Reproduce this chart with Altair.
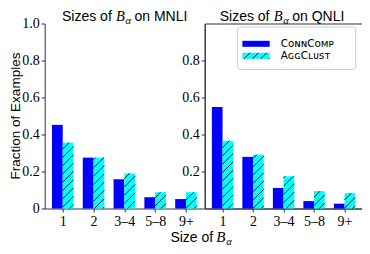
import json
import math
import altair as alt
import pandas as pd

# ---------------- data ----------------
categories = ["1", "2", "3–4", "5–8", "9+"]
mnli_conncomp = [0.452, 0.275, 0.158, 0.061, 0.051]
mnli_aggclust = [0.356, 0.275, 0.190, 0.088, 0.088]
qnli_conncomp = [0.548, 0.279, 0.111, 0.040, 0.026]
qnli_aggclust = [0.366, 0.291, 0.174, 0.094, 0.083]
series_names = ["ConnComp", "AggClust"]
legend_labels = ["CᴏɴɴCᴏᴍᴘ", "AɢɢCʟᴜꜱᴛ"]
y_ticks_left = [0, 0.2, 0.4, 0.6, 0.8, 1.0]
y_ticks_right = [0.2, 0.4, 0.6, 0.8]
panel_names = ["MNLI", "QNLI"]

# ---------------- layout constants ----------------
BW = 0.35
D0, D1 = -0.585, 4.585
H = 185
W_L, W_R = 159.3, 157.7
SPACING = 8.3
BLUE, CYAN = "#0000ff", "#00ffff"
SANS, SERIF = "Liberation Sans", "Liberation Serif"


def hatch_px(xa, xb, ya, yb, s=SPACING):
    """45-degree hatch segments (y up) clipped to rectangle."""
    segs = []
    kmin = math.floor((ya - xb) / s) - 1
    kmax = math.ceil((yb - xa) / s) + 1
    for m in range(kmin, kmax + 1):
        k = m * s
        xs = max(xa, ya - k)
        xe = min(xb, yb - k)
        if xe - xs > 0.4:
            segs.append((xs, xs + k, xe, xe + k))
    return segs


def bars_df(conn, agg):
    rows = []
    for i, (c, a) in enumerate(zip(conn, agg)):
        rows.append(dict(series=series_names[0], x0=i - BW, x1=i, v=c, z=0))
        rows.append(dict(series=series_names[1], x0=i, x1=i + BW, v=a, z=0))
    return pd.DataFrame(rows)


def hatch_df(agg, W, offset):
    ppx = W / (D1 - D0)
    rows = []
    for i, v in enumerate(agg):
        xa = offset + (i - D0) * ppx
        xb = offset + (i + BW - D0) * ppx
        for (x1, y1, x2, y2) in hatch_px(xa, xb, 0, v * H):
            rows.append(dict(hx1=D0 + (x1 - offset) / ppx, hy1=y1 / H,
                             hx2=D0 + (x2 - offset) / ppx, hy2=y2 / H))
    return pd.DataFrame(rows)


one = pd.DataFrame({"a": [0]})


def txt(text, x, y, font=SANS, size=14, align="left", style="normal", baseline="alphabetic"):
    return alt.Chart(one).mark_text(
        text=text, font=font, fontSize=size, align=align, fontStyle=style,
        baseline=baseline, color="#000"
    ).encode(x=alt.value(x), y=alt.value(y))


def title_parts(name, c, y=-2.6):
    return [
        txt("Sizes of", c - 13.2, y, align="right"),
        txt("B", c - 9, y, font=SERIF, size=14.5, style="italic"),
        txt("α", c + 0.5, y + 3, font=SERIF, size=10.5, style="italic"),
        txt("on " + name, c + 9.5, y, align="left"),
    ]


def panel(conn, agg, W, offset, left, name, c):
    xscale = alt.Scale(domain=[D0, D1], nice=False, zero=False)
    yscale = alt.Scale(domain=[0, 1], nice=False, zero=False)
    xaxis = alt.Axis(values=[0, 1, 2, 3, 4], title=None,
                     labelExpr=json.dumps(categories, ensure_ascii=False) + "[datum.value]",
                     labelFlush=False, labelOverlap=False)
    if left:
        yaxis = alt.Axis(values=y_ticks_left, title="Fraction of Examples",
                         labelExpr="datum.value == 0 ? '0' : format(datum.value, '.1f')",
                         titleFont=SANS, titleFontSize=13.5, titleFontWeight="normal",
                         titleX=-25.5, titleY=92, titleAngle=270, titleAlign="center",
                         titleBaseline="alphabetic", titleColor="#000", labelFlush=False)
    else:
        yaxis = alt.Axis(values=y_ticks_right, title=None, format=".1f", labelFlush=False)

    bars = alt.Chart(bars_df(conn, agg)).mark_rect().encode(
        x=alt.X("x0:Q", scale=xscale, axis=xaxis),
        x2="x1:Q",
        y=alt.Y("v:Q", scale=yscale, axis=yaxis),
        y2="z:Q",
        color=alt.Color("series:N", scale=alt.Scale(domain=series_names, range=[BLUE, CYAN]),
                        legend=None),
    )
    hatch = alt.Chart(hatch_df(agg, W, offset)).mark_rule(color="#000", strokeWidth=0.9).encode(
        x=alt.X("hx1:Q", scale=xscale, axis=xaxis),
        x2="hx2:Q",
        y=alt.Y("hy1:Q", scale=yscale, axis=yaxis),
        y2="hy2:Q",
    )
    layers = [bars, hatch] + title_parts(name, c)
    if left:
        layers += [
            txt("Size of", 168.5, 218.8, align="right"),
            txt("B", 171.5, 218.8, font=SERIF, size=15, style="italic"),
            txt("α", 181.5, 221.8, font=SERIF, size=10.5, style="italic"),
        ]
        view = {"stroke": "transparent"}
    else:
        # legend
        box = alt.Chart(one).mark_rect(fill="#ffffff", fillOpacity=0.85, stroke="#cccccc",
                                       strokeWidth=1, cornerRadius=3).encode(
            x=alt.value(32.7), x2=alt.value(151), y=alt.value(3.5), y2=alt.value(46))
        sw1 = alt.Chart(one).mark_rect(fill=BLUE).encode(
            x=alt.value(37.7), x2=alt.value(65), y=alt.value(17.3), y2=alt.value(23.3))
        sw2 = alt.Chart(one).mark_rect(fill=CYAN).encode(
            x=alt.value(37.7), x2=alt.value(65), y=alt.value(29.3), y2=alt.value(35.3))
        segs = hatch_px(37.7, 65, -35.3, -29.3)
        sdf = pd.DataFrame([dict(a=a, b=-b, c=cc, d=-d) for (a, b, cc, d) in segs])
        swh = alt.Chart(sdf).mark_rule(color="#000", strokeWidth=0.9).encode(
            x=alt.X("a:Q", scale=None), y=alt.Y("b:Q", scale=None),
            x2="c:Q", y2="d:Q")
        l1 = txt(legend_labels[0], 76, 23.3, font="DejaVu Sans", size=10.3)
        l2 = txt(legend_labels[1], 76, 35.3, font="DejaVu Sans", size=10.3)
        layers += [box, sw1, sw2, swh, l1, l2]
        view = {"stroke": "#333333", "strokeWidth": 1}
    return alt.layer(*layers).properties(width=W, height=H, view=view)


left = panel(mnli_conncomp, mnli_aggclust, W_L, 0, True, panel_names[0], 80.3)
right = panel(qnli_conncomp, qnli_aggclust, W_R, W_L, False, panel_names[1], 78)

chart = alt.hconcat(left, right, spacing=0, bounds="flush").properties(
    autosize=alt.AutoSizeParams(type="none"),
    padding={"left": 36.7, "top": 15.5, "right": 317.3, "bottom": 223.5},
).configure_axis(
    labelFont=SERIF, labelFontSize=14, labelColor="#000", tickColor="#333333",
    domainColor="#333333", tickSize=3.5, labelPadding=2, grid=False,
    domainWidth=1, tickWidth=1,
).configure_view(stroke="transparent")

chart.save("out.html", embed_options={"renderer": "svg", "actions": False})
